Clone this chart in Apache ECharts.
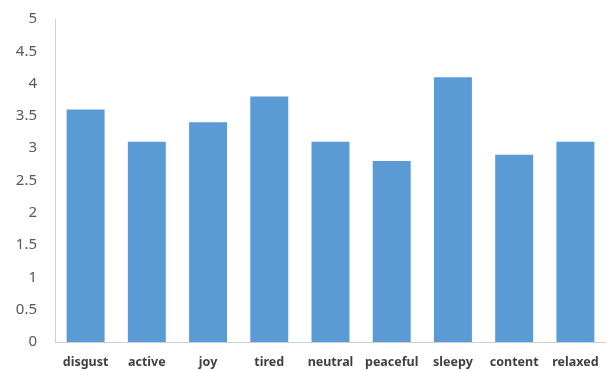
<!DOCTYPE html>
<html><head><meta charset="utf-8">
<script src="https://cdn.jsdelivr.net/npm/echarts@6/dist/echarts.min.js"></script>
<style>html,body{margin:0;padding:0;background:#fff}#c{width:611px;height:371px}</style>
</head><body><div id="c"></div>
<script>
const categories = ["disgust","active","joy","tired","neutral","peaceful","sleepy","content","relaxed"];
const values = [3.6, 3.1, 3.4, 3.8, 3.1, 2.8, 4.1, 2.9, 3.1];
const yMin = 0, yMax = 5, yStep = 0.5;

const chart = echarts.init(document.getElementById('c'), null, {renderer:'canvas'});
chart.setOption({
  animation: false,
  grid: {left: 55, right: 5, top: 19, bottom: 29, containLabel: false},
  xAxis: {
    type: 'category', data: categories,
    axisLine: {show: true, lineStyle: {color: '#D0D0D0', width: 1}},
    axisTick: {show: false},
    axisLabel: {interval: 0, hideOverlap: false, color: '#404040', fontFamily: 'Noto Sans', fontWeight: 'bold', fontSize: 12.5, margin: 14}
  },
  yAxis: {
    type: 'value', min: yMin, max: yMax, interval: yStep,
    axisLine: {show: true, lineStyle: {color: '#D0D0D0', width: 1}},
    axisTick: {show: false},
    splitLine: {show: false},
    axisLabel: {color: '#595959', fontFamily: 'Noto Sans', fontSize: 15, margin: 18,
      formatter: v => String(v)}
  },
  series: [{
    type: 'bar', data: values, barCategoryGap: '38%',
    itemStyle: {color: '#5B9BD5'}
  }]
});
</script></body></html>
